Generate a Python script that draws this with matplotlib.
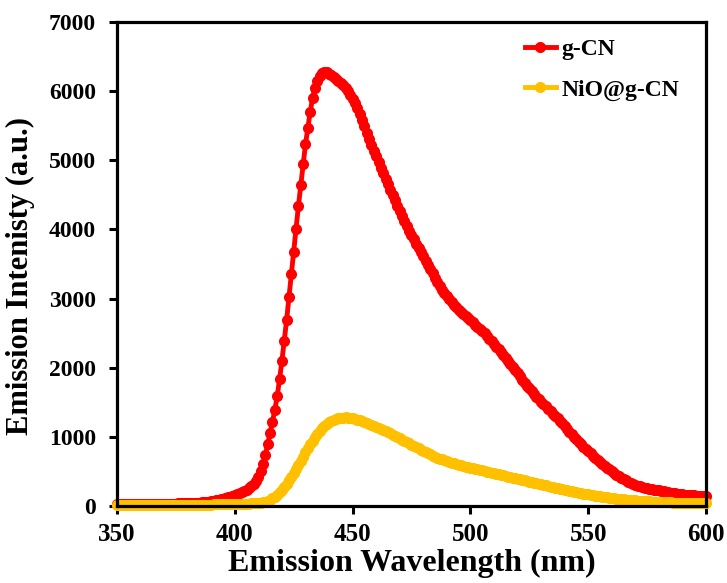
import numpy as np
import matplotlib.pyplot as plt

plt.rcParams['font.family'] = ['Liberation Serif', 'DejaVu Serif']
plt.rcParams['font.weight'] = 'bold'

# emission wavelength, 1 nm steps
wl = np.arange(350, 601)

g_cn = [
    25, 25, 25, 26, 26, 26, 27, 27, 27, 28,
    28, 28, 29, 29, 30, 30, 31, 31, 32, 32,
    33, 33, 34, 35, 35, 36, 37, 38, 39, 40,
    41, 42, 44, 46, 48, 50, 53, 56, 60, 65,
    70, 75, 82, 90, 98, 106, 115, 125, 135, 147,
    160, 172, 185, 200, 215, 235, 260, 285, 320, 365,
    420, 500, 610, 740, 900, 1060, 1220, 1390, 1590, 1830,
    2100, 2390, 2690, 3020, 3350, 3670, 4010, 4340, 4640, 4950,
    5230, 5470, 5700, 5900, 6050, 6150, 6220, 6260, 6275, 6270,
    6250, 6230, 6205, 6180, 6150, 6120, 6085, 6045, 5995, 5945,
    5890, 5830, 5755, 5670, 5580, 5490, 5400, 5310, 5225, 5140,
    5055, 4975, 4895, 4815, 4735, 4655, 4570, 4495, 4420, 4345,
    4270, 4195, 4120, 4045, 3980, 3915, 3855, 3790, 3730, 3670,
    3610, 3550, 3490, 3425, 3365, 3300, 3240, 3180, 3130, 3080,
    3035, 2990, 2950, 2910, 2875, 2840, 2805, 2775, 2745, 2715,
    2685, 2655, 2625, 2595, 2560, 2530, 2495, 2460, 2420, 2385,
    2345, 2305, 2265, 2225, 2185, 2145, 2100, 2055, 2010, 1965,
    1920, 1875, 1825, 1780, 1740, 1700, 1660, 1620, 1580, 1545,
    1510, 1475, 1440, 1405, 1370, 1335, 1305, 1270, 1235, 1195,
    1155, 1115, 1075, 1040, 1000, 965, 930, 895, 860, 825,
    790, 760, 730, 700, 670, 640, 610, 580, 555, 530,
    505, 480, 455, 430, 410, 390, 370, 350, 335, 320,
    305, 295, 285, 275, 265, 257, 250, 243, 237, 231,
    225, 218, 211, 205, 199, 193, 187, 182, 177, 173,
    169, 166, 163, 160, 157, 154, 151, 148, 145, 142,
    138,
]

nio_gcn = [
    12, 12, 12, 12, 12, 13, 13, 13, 13, 13,
    13, 13, 14, 14, 14, 14, 14, 15, 15, 15,
    15, 15, 15, 16, 16, 16, 16, 17, 17, 17,
    17, 18, 18, 18, 19, 19, 19, 20, 20, 21,
    21, 22, 22, 23, 23, 24, 25, 25, 26, 27,
    28, 29, 30, 31, 32, 33, 35, 37, 39, 41,
    45, 50, 56, 64, 75, 90, 110, 135, 165, 200,
    235, 275, 320, 370, 420, 475, 535, 595, 655, 715,
    775, 835, 890, 945, 995, 1040, 1085, 1125, 1160, 1190,
    1215, 1235, 1250, 1262, 1270, 1276, 1279, 1280, 1279, 1276,
    1272, 1262, 1250, 1238, 1226, 1213, 1200, 1187, 1173, 1160,
    1145, 1130, 1115, 1100, 1083, 1066, 1049, 1032, 1014, 996,
    978, 960, 942, 924, 906, 888, 870, 852, 834, 816,
    798, 780, 763, 746, 730, 715, 700, 686, 673, 660,
    648, 637, 626, 615, 605, 596, 587, 578, 570, 562,
    554, 546, 538, 530, 522, 514, 506, 498, 490, 482,
    474, 466, 458, 450, 442, 434, 426, 418, 410, 402,
    394, 386, 378, 370, 362, 354, 346, 338, 330, 322,
    314, 306, 298, 290, 282, 274, 266, 258, 250, 242,
    234, 227, 220, 213, 206, 199, 192, 186, 180, 174,
    168, 162, 156, 150, 144, 139, 134, 129, 124, 119,
    115, 111, 107, 103, 99, 95, 92, 89, 86, 83,
    80, 77, 75, 72, 70, 68, 66, 64, 62, 60,
    58, 56, 55, 53, 52, 51, 50, 49, 48, 47,
    46, 45, 44, 43, 42, 41, 41, 40, 40, 39,
    38,
]

fig = plt.figure(figsize=(7.27, 5.83), dpi=100)
ax = fig.add_axes([117/727, 1-506/583, 589/727, 484/583])

ax.plot(wl, g_cn, color='#FF0000', marker='o', ms=8, mew=0, lw=3.5, label='g-CN', clip_on=False)
ax.plot(wl, nio_gcn, color='#FFC000', marker='o', ms=8, mew=0, lw=3.5, label='NiO@g-CN', clip_on=False)

ax.set_xlim(350, 600)
ax.set_ylim(0, 7000)
ax.set_xticks(np.arange(350, 601, 50))
ax.set_yticks(np.arange(0, 7001, 1000))

for s in ax.spines.values():
    s.set_linewidth(2.3)
ax.tick_params(axis='both', direction='out', length=6, width=2.2)
ax.tick_params(axis='x', labelsize=18, pad=6)
ax.tick_params(axis='y', labelsize=17, pad=9)

ax.set_xlabel('Emission Wavelength (nm)', fontsize=23, fontweight='bold')
ax.set_ylabel('Emission Intenisty (a.u.)', fontsize=22, fontweight='bold')
ax.xaxis.set_label_coords(0.5, -0.088)
ax.yaxis.set_label_coords(-0.139, 0.475)

leg = ax.legend(loc='upper right', frameon=False, fontsize=17, numpoints=1,
                handlelength=1.35, handletextpad=0.2, labelspacing=0.8,
                bbox_to_anchor=(0.99, 1.01))
for t in leg.get_texts():
    t.set_fontweight('bold')

fig.savefig('out.png', dpi=100)
